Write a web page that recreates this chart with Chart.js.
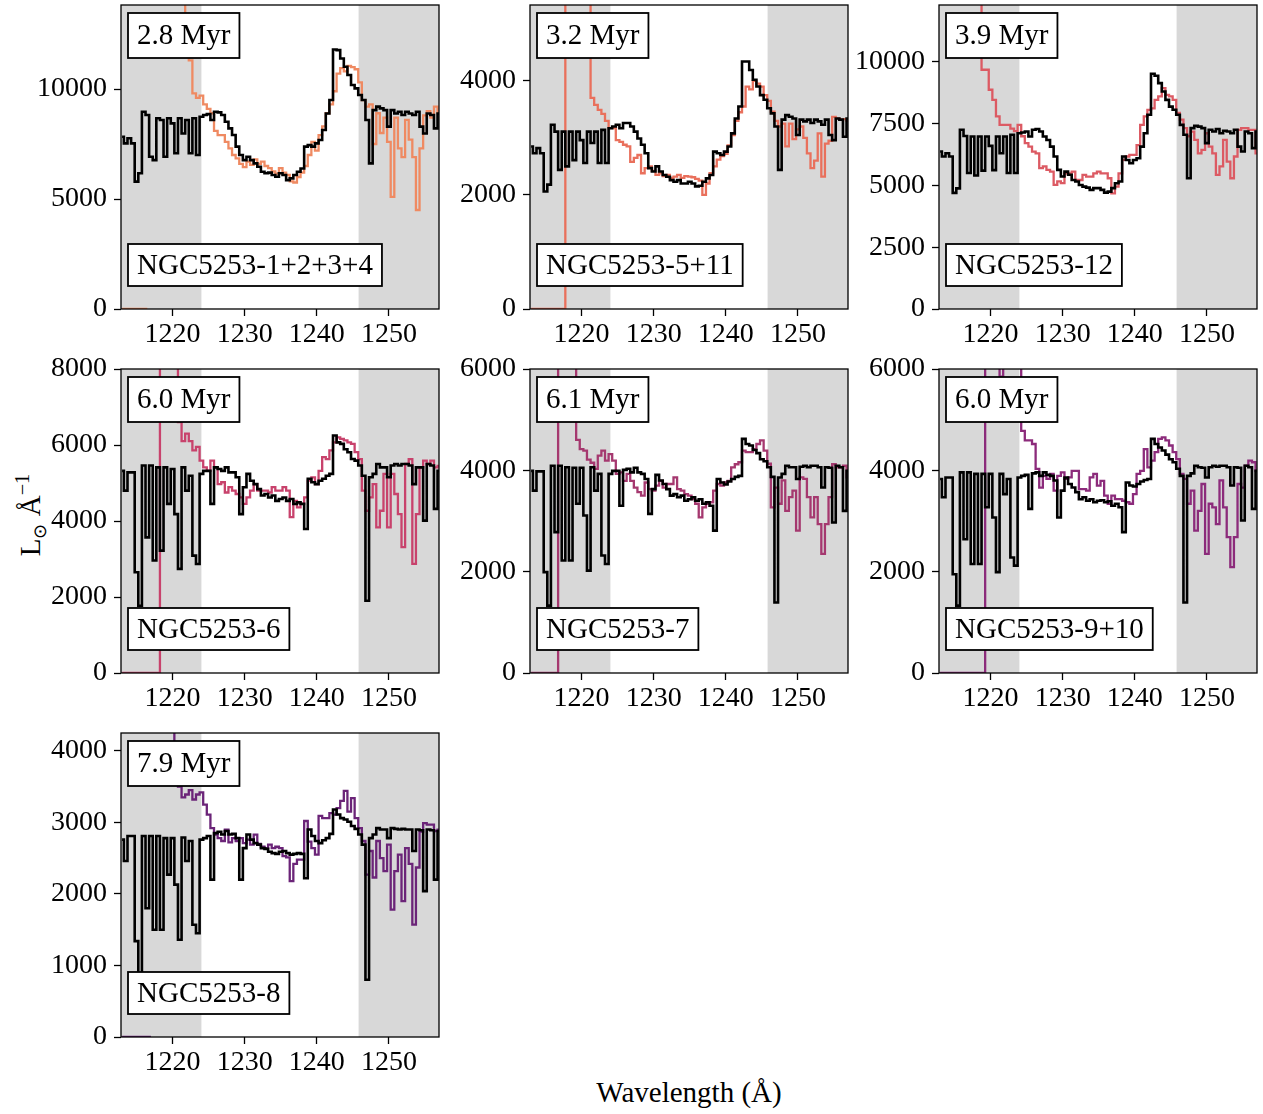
<!DOCTYPE html>
<html>
<head>
<meta charset="utf-8">
<script src="https://cdn.jsdelivr.net/npm/chart.js@4.4.1/dist/chart.umd.min.js"></script>
<style>
  html, body { margin: 0; padding: 0; background: #fff; }
  body { width: 1263px; height: 1114px; overflow: hidden; position: relative; }
  canvas { position: absolute; }
  .axis-label { position: absolute; font-family: "Liberation Serif", "Times New Roman", serif; font-size: 29px; color: #000; white-space: nowrap; transform: translate(-50%, -50%); }
  .ylab { transform: translate(-50%, -50%) rotate(-90deg); }
  .sub { font-size: 0.62em; position: relative; top: 0.32em; }
  .sup { font-size: 0.7em; position: relative; top: -0.55em; }
</style>
</head>
<body>
<div class="axis-label" style="left:689px; top:1092px;">Wavelength (Å)</div>
<div class="axis-label ylab" style="left:30px; top:515px;">L<span class="sub">⊙</span> Å<span class="sup">−1</span></div>
<script>
// Wavelength grid shared by every spectrum (Å)
const wavelength = [1213,1213.5,1214,1214.5,1215,1215.5,1216,1216.5,1217,1217.5,1218,1218.5,1219,1219.5,1220,1220.5,1221,1221.5,1222,1222.5,1223,1223.5,1224,1224.5,1225,1225.5,1226,1226.5,1227,1227.5,1228,1228.5,1229,1229.5,1230,1230.5,1231,1231.5,1232,1232.5,1233,1233.5,1234,1234.5,1235,1235.5,1236,1236.5,1237,1237.5,1238,1238.5,1239,1239.5,1240,1240.5,1241,1241.5,1242,1242.5,1243,1243.5,1244,1244.5,1245,1245.5,1246,1246.5,1247,1247.5,1248,1248.5,1249,1249.5,1250,1250.5,1251,1251.5,1252,1252.5,1253,1253.5,1254,1254.5,1255,1255.5,1256,1256.5,1257];

// Cluster labels and best-fit ages
const clusterNames = ['NGC5253-1+2+3+4', 'NGC5253-5+11', 'NGC5253-12', 'NGC5253-6', 'NGC5253-7', 'NGC5253-9+10', 'NGC5253-8'];
const clusterAges = ['2.8 Myr', '3.2 Myr', '3.9 Myr', '6.0 Myr', '6.1 Myr', '6.0 Myr', '7.9 Myr'];
const observedColors = ['#ef8a62', '#e9705c', '#dc5a63', '#c8426c', '#a5386f', '#8c2b7b', '#6b2478'];

// Axis limits and tick values
const xTicks = [1220, 1230, 1240, 1250];
const xLimits = [1212.85, 1256.95];
const yMax = [13820, 5330, 12300, 8000, 6000, 6000, 4250];
const yTicks = [
  [0, 5000, 10000],
  [0, 2000, 4000],
  [0, 2500, 5000, 7500, 10000],
  [0, 2000, 4000, 6000, 8000],
  [0, 2000, 4000, 6000],
  [0, 2000, 4000, 6000],
  [0, 1000, 2000, 3000, 4000]
];
// Wavelength windows excluded from the fit (shaded)
const maskedBelow = 1224.0;
const maskedAbove = 1245.8;

// Best-fit model spectra (L_sun / Å)
const model1 = [7830,7530,7760,7530,5790,6170,8970,8820,6920,6770,8670,8590,6920,8670,8440,7080,8670,7980,8590,7080,8670,7000,8740,8820,8860,8590,8970,8940,8820,8510,8210,7910,7380,7000,6770,6920,6770,6620,6470,6240,6170,6200,6090,6010,6170,6090,5860,5940,6090,6240,6390,7380,7450,7380,7530,7680,8140,8890,9500,11800,11770,11390,11010,10640,10180,10030,9730,9500,8590,6620,9040,9200,9120,9040,8290,9040,8890,8970,8820,8970,8890,8820,8970,8290,7980,8890,8820,8210,8890];
const model2 = [2850,2730,2820,2730,2060,2180,3230,3110,2440,3110,2500,3110,2610,3110,2960,2560,3110,2910,3110,2560,3140,2560,3170,3200,3230,3170,3260,3260,3200,3110,2990,2880,2730,2470,2410,2500,2410,2350,2320,2260,2230,2260,2200,2200,2230,2200,2150,2160,2230,2290,2350,2760,2730,2700,2760,2850,3080,3340,3550,4340,4340,4190,4020,3900,3750,3670,3520,3430,3200,2440,3320,3400,3370,3340,3050,3320,3290,3320,3260,3320,3290,3230,3320,3050,2960,3340,3320,3020,3340];
const model3 = [6370,6170,6300,6170,4700,4880,7250,7000,5500,6980,5400,6980,5600,6980,6600,5620,6980,6300,6980,5500,7050,5500,7110,7140,7180,6980,7250,7280,7180,6980,6840,6570,6170,5630,5360,5560,5430,5220,5160,5020,4950,4910,4820,4890,4890,4820,4710,4750,4890,5090,5160,6170,6030,5900,6030,6100,6570,7110,7860,9520,9440,9140,8800,8460,8190,8060,7860,7450,7050,5290,7320,7410,7380,7320,6710,7250,7180,7280,7110,7210,7180,7110,7250,6570,6370,7180,7110,6510,7180];
const model4 = [5320,4800,5280,5280,2650,1770,5460,3570,5460,2960,5410,3220,5410,4450,5370,4180,2740,5410,4800,5190,3090,2870,5240,5320,5320,4450,5410,5370,5320,5410,5280,5280,5150,4180,4890,5240,5060,4970,4840,4670,4710,4620,4670,4530,4580,4620,4530,4580,4450,4490,4450,3790,5110,5020,4970,5060,5110,5190,5240,6250,6070,6030,5890,5810,5630,5590,5460,5190,1900,5150,5240,5500,5410,5410,5150,5460,5500,5460,5500,5500,5460,4970,5410,5410,4010,5500,5460,4320,5320];
const model5 = [3990,3600,3980,3980,1990,1330,4090,2780,4090,2220,4060,2220,4050,3340,4050,3110,2020,4060,3600,3930,2320,2150,3930,3990,3990,3300,4010,4030,3960,4050,3960,3930,3830,3140,3630,3910,3800,3730,3630,3500,3530,3470,3500,3400,3430,3470,3400,3430,3340,3370,3300,2810,3830,3760,3720,3780,3830,3870,3890,4620,4520,4490,4400,4340,4220,4180,4060,3870,1390,3860,3930,4090,4060,4060,3830,4070,4090,4060,4090,4090,4060,3660,4060,4050,2970,4090,4060,3200,3990];
const model6 = [3830,3470,3860,3860,1950,1330,3960,2640,3960,2150,3930,2150,3930,3270,3930,3070,1990,3930,3530,3830,2280,2120,3860,3890,3910,3240,3940,3960,3890,3960,3910,3890,3800,3070,3600,3860,3730,3660,3570,3430,3470,3400,3430,3370,3400,3410,3370,3390,3300,3340,3270,2780,3760,3700,3680,3730,3780,3810,3830,4620,4520,4450,4390,4310,4220,4160,4030,3890,1390,3890,3940,4090,4060,4050,3860,4060,4090,4070,4090,4090,4060,3700,4060,4050,3010,4090,4060,3240,3990];
const model7 = [2760,2460,2810,2810,1340,850,2810,1800,2810,1500,2810,1500,2780,2270,2780,2130,1360,2790,2460,2740,1570,1450,2760,2780,2810,2200,2850,2870,2830,2880,2830,2840,2780,2200,2640,2830,2760,2710,2690,2640,2630,2590,2570,2560,2590,2600,2570,2550,2560,2570,2560,2220,2900,2810,2740,2710,2750,2780,2840,3180,3110,3060,3040,3010,2950,2910,2830,2690,800,2780,2830,2920,2900,2900,2780,2920,2910,2900,2910,2900,2900,2600,2900,2890,2040,2900,2890,2200,2880];

// Observed spectra (L_sun / Å); null marks pixels without data
const observed1 = [0,0,0,0,0,0,0,0,null,null,null,null,null,null,null,null,null,15000,11800,11300,9800,9600,9700,9300,9100,8900,8100,7900,7900,7600,7300,7000,6850,6600,6450,6700,6550,6800,6600,6700,6500,6400,6250,6150,6400,6200,6100,5800,5750,6000,6200,6500,7000,7600,7200,7900,8300,8900,9300,9900,10700,10950,10800,11050,11000,10900,10300,9500,9200,9300,7500,8900,8000,8700,7600,5100,8700,7300,6900,8600,7700,6900,4500,7300,8800,9000,8700,9200,8900];
const observed2 = [0,0,0,0,0,0,0,0,0,0,6000,6000,6000,6000,6000,6000,6000,3700,3580,3490,3420,3300,3170,3170,2960,2930,2880,2850,2580,2650,2700,2380,2470,2500,2420,2350,2380,2330,2350,2300,2320,2350,2300,2330,2320,2310,2280,2250,2000,2200,2380,2500,2620,2680,2720,2870,3050,3300,3450,3550,3900,3850,4000,3950,3900,3750,3650,3460,3300,3200,3250,2850,3250,2980,3150,3200,3000,2730,2470,2600,3080,2320,2900,2950,3370,3340,3320,3330,3300];
const observed3 = [null,null,null,null,null,null,null,null,null,null,null,14000,9680,9680,8870,8460,7790,7450,7450,7450,7300,7200,7450,6990,6710,6570,6370,6300,5700,5770,5630,5560,5020,5160,5090,5490,5490,5560,5220,5220,5430,5360,5360,5490,5560,5490,5490,5290,4680,4950,5490,6030,6170,6240,6240,6630,7450,7790,8060,8120,8460,8600,8940,8660,8600,8460,7930,7660,7320,6990,7180,6840,6300,6440,7110,6570,6300,5430,5770,6840,5960,5290,6170,7250,7320,7320,7250,7250,6300];
const observed4 = [0,0,0,0,0,0,0,0,0,0,0,9000,9000,9000,9000,9000,6600,6100,6300,6100,5860,5950,5590,5410,5320,5590,5410,4970,5020,4750,4890,4800,4710,4620,4450,4620,4800,4970,4800,4800,4800,4750,4890,4800,4800,4890,4800,4100,4530,4360,4450,4620,5060,5150,4970,5320,5680,5630,5860,6070,6200,6160,6120,6070,6030,5810,5630,4800,4270,4620,4970,3830,4270,5240,3830,5240,4710,4180,3310,5500,5630,2870,4180,5410,5590,5500,5590,5410,5450];
const observed5 = [0,0,0,0,0,0,0,0,7000,7000,7000,7000,7000,4600,4420,4390,4210,4150,4030,4290,4390,4190,4320,4190,3930,3960,3790,3930,3790,3660,3570,3500,3760,3630,3600,3700,3790,3660,3730,3730,3860,3630,3600,3530,3500,3430,3340,3070,3270,3340,3370,3600,3730,3700,3760,3790,4060,4120,4160,4390,4360,4360,4420,4520,4590,4390,4130,3270,3660,3340,3800,3200,3470,3600,2810,3860,3830,3470,3070,3470,2940,2350,2940,3470,4120,4060,4060,4090,3860];
const observed6 = [0,0,0,0,0,0,0,0,0,0,0,0,0,7000,7000,7000,7000,5850,7000,7000,7000,7000,7000,4780,4590,4590,4520,4030,3660,3890,3830,3930,3600,3890,3960,3830,3860,3990,3990,3630,3630,3600,3860,3930,3700,3790,3500,3340,3500,3430,3430,3400,3370,3340,3530,3930,3990,4420,4060,4190,4360,4620,4650,4590,4490,4360,4220,3930,3830,3340,3600,2810,3200,3730,2350,3340,3270,2940,3800,3270,2680,2090,2680,3730,3660,4090,4190,4160,3990];
const observed7 = [0,0,0,0,0,0,0,0,0,null,null,null,null,null,5000,3800,3500,3350,3390,3450,3320,3390,3420,3250,3110,2920,2830,2780,2740,2900,2720,2780,2740,2780,2710,2760,2690,2830,2700,2660,2640,2690,2640,2660,2640,2530,2510,2180,2420,2480,2480,3020,2730,2640,2550,3090,3060,3060,3130,3110,3200,3300,3440,3150,3340,3060,2920,2740,2270,2600,2230,2740,2500,2320,2690,1780,2320,2550,1900,2640,2420,1570,2370,2870,2990,2970,2970,2880,2900];

const models = [model1, model2, model3, model4, model5, model6, model7];
const observed = [observed1, observed2, observed3, observed4, observed5, observed6, observed7];

// Page layout (pixels)
const PLOT_LEFT = [121, 530, 939];
const PLOT_TOP = [5, 369, 733];
const PLOT_W = 318, PLOT_H = 304;
const PAD_L = 121, PAD_R = 6, PAD_T = 34, PAD_B = 55;
const SERIF = '"Liberation Serif", "Times New Roman", serif';
const MASK_GREY = '#d8d8d8';

const toPoints = vals => wavelength.map((w, i) => ({ x: w, y: vals[i] }));

// Grey bands for the excluded wavelength windows
const maskBands = {
  id: 'maskBands',
  beforeDatasetsDraw(chart) {
    const { ctx, chartArea: a, scales: { x } } = chart;
    const lo = x.getPixelForValue(maskedBelow);
    const hi = x.getPixelForValue(maskedAbove);
    ctx.save();
    ctx.fillStyle = MASK_GREY;
    ctx.fillRect(a.left, a.top, lo - a.left, a.bottom - a.top);
    ctx.fillRect(hi, a.top, a.right - hi, a.bottom - a.top);
    ctx.restore();
  }
};

// Boxed age / cluster-name annotations and the axes frame
const annotations = {
  id: 'annotations',
  afterDatasetsDraw(chart, args, opts) {
    const { ctx, chartArea: a } = chart;
    ctx.save();
    ctx.font = '29px ' + SERIF;
    ctx.textBaseline = 'middle';
    ctx.textAlign = 'left';
    const box = (text, left, top, h) => {
      const w = ctx.measureText(text).width + 18;
      ctx.fillStyle = '#fff';
      ctx.fillRect(left, top, w, h);
      ctx.lineWidth = 1.8;
      ctx.strokeStyle = '#000';
      ctx.strokeRect(left, top, w, h);
      ctx.fillStyle = '#000';
      ctx.fillText(text, left + 9, top + h / 2 + 1);
    };
    box(opts.age, a.left + 7, a.top + 8, 45);
    box(opts.name, a.left + 7, a.top + 239, 42);
    ctx.lineWidth = 1.3;
    ctx.strokeStyle = '#000';
    ctx.strokeRect(a.left, a.top, a.right - a.left, a.bottom - a.top);
    ctx.restore();
  }
};

function tickFont() { return { family: SERIF, size: 28 }; }

function makePanel(i) {
  const col = i % 3, row = Math.floor(i / 3);
  const canvas = document.createElement('canvas');
  const W = PAD_L + PLOT_W + PAD_R, H = PAD_T + PLOT_H + PAD_B;
  canvas.width = W; canvas.height = H;
  canvas.style.width = W + 'px'; canvas.style.height = H + 'px';
  canvas.style.left = (PLOT_LEFT[col] - PAD_L) + 'px';
  canvas.style.top = (PLOT_TOP[row] - PAD_T) + 'px';
  document.body.appendChild(canvas);

  const axisGrid = { drawOnChartArea: false, drawTicks: true, tickLength: 7, tickWidth: 1.3, tickColor: '#000' };
  new Chart(canvas, {
    type: 'line',
    data: {
      datasets: [
        { data: toPoints(models[i]), borderColor: '#000', borderWidth: 2.6, stepped: 'middle', pointRadius: 0, fill: false },
        { data: toPoints(observed[i]), borderColor: observedColors[i], borderWidth: 2.3, stepped: 'middle', pointRadius: 0, fill: false, spanGaps: false }
      ]
    },
    options: {
      animation: false,
      responsive: false,
      devicePixelRatio: 1,
      events: [],
      layout: { padding: { top: PAD_T, right: PAD_R, left: 0, bottom: 0 } },
      plugins: {
        legend: { display: false },
        tooltip: { enabled: false },
        annotations: { age: clusterAges[i], name: clusterNames[i] }
      },
      scales: {
        x: {
          type: 'linear', min: xLimits[0], max: xLimits[1],
          afterBuildTicks: s => { s.ticks = xTicks.map(v => ({ value: v })); },
          afterFit: s => { s.height = PAD_B; },
          grid: axisGrid,
          border: { display: false },
          ticks: { font: tickFont(), color: '#000', padding: 2, maxRotation: 0, autoSkip: false, callback: v => String(v) }
        },
        y: {
          type: 'linear', min: 0, max: yMax[i],
          afterBuildTicks: s => { s.ticks = yTicks[i].map(v => ({ value: v })); },
          afterFit: s => { s.width = PAD_L; },
          grid: axisGrid,
          border: { display: false },
          ticks: { font: tickFont(), color: '#000', padding: 7, autoSkip: false, callback: v => String(v) }
        }
      }
    },
    plugins: [maskBands, annotations]
  });
}

function drawAll() { for (let i = 0; i < models.length; i++) makePanel(i); }
if (document.fonts && document.fonts.load) {
  document.fonts.load('28px "Liberation Serif"').then(drawAll, drawAll);
} else {
  drawAll();
}
</script>
</body>
</html>
